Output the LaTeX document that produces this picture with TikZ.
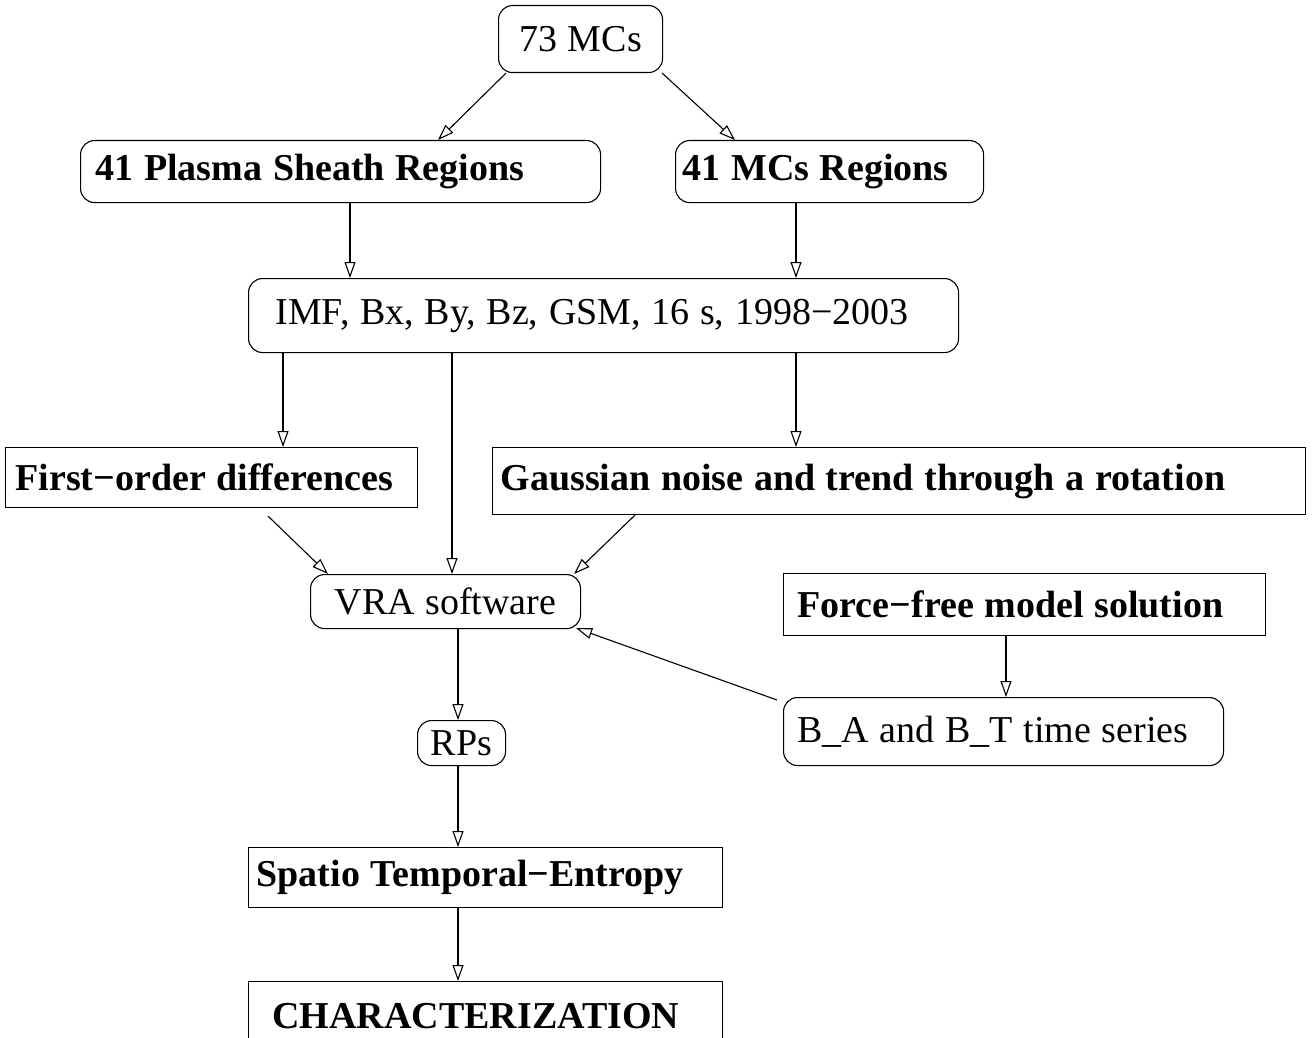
\documentclass[tikz,border=0pt]{standalone}
\usepackage{fontspec}
\setmainfont{Liberation Serif}
\usetikzlibrary{arrows.meta}
\tikzset{
  base/.style={draw, line width=1.1pt, font=\fontsize{38}{44}\selectfont, inner ysep=0pt, align=left, anchor=north west,
    execute at begin node={\spaceskip=0.28em\relax}},
  rbox/.style={base, rounded corners=14pt},
  sbox/.style={base},
  arr/.style={-{Triangle[open,length=16pt,width=11pt]}, line width=1.1pt}
}
\begin{document}
\begin{tikzpicture}[x=1pt,y=-1pt]
\useasboundingbox (0,0) rectangle (1314,1038);
\clip (0,0) rectangle (1314,1038);
\fill[white] (0,0) rectangle (1314,1038);
\node[rbox, align=center, minimum height=67pt, text width=144pt, inner xsep=10pt] (m73) at (498,5) {73 MCs};
\node[rbox, minimum height=62pt, text width=490pt, inner xsep=15pt] (ps) at (80,140) {\bfseries 41 Plasma Sheath Regions};
\node[rbox, minimum height=62pt, text width=294pt, inner xsep=7pt] (mcr) at (675,140) {\bfseries 41 MCs Regions};
\node[rbox, minimum height=74pt, text width=656pt, inner xsep=27pt] (imf) at (248,278) {IMF, Bx, By, Bz, GSM, 16 s, 1998−2003};
\node[sbox, minimum height=60pt, text width=392pt, inner xsep=10pt] (fod) at (5,447) {\bfseries First−order differences};
\node[sbox, minimum height=67pt, text width=797pt, inner xsep=8pt] (gau) at (492,447) {\bfseries Gaussian noise and trend through a rotation};
\node[rbox, align=center, minimum height=54pt, text width=250pt, inner xsep=10pt] (vra) at (310,574) {VRA software};
\node[sbox, minimum height=62pt, text width=454pt, inner xsep=14pt] (ffm) at (783,573) {\bfseries Force−free model solution};
\node[rbox, minimum height=68pt, text width=412pt, inner xsep=14pt] (bab) at (783,697) {B\_A and B\_T time series};
\node[rbox, align=center, minimum height=45pt, text width=78pt, inner xsep=5pt] (rps) at (417,720) {RPs};
\node[sbox, minimum height=60pt, text width=458pt, inner xsep=8pt] (ste) at (248,847) {\bfseries Spatio Temporal−Entropy};
\node[sbox, minimum height=70pt, text width=426pt, inner xsep=24pt] (chr) at (248,981) {\bfseries CHARACTERIZATION};
\draw[arr] ([xshift=8pt]m73.south west) -- ([xshift=358pt]ps.north west);
\draw[arr] ([xshift=-1pt]m73.south east) -- ([xshift=60pt]mcr.north west);
\draw[arr] ([xshift=270pt]ps.south west) -- ([xshift=102pt]imf.north west);
\draw[arr] ([xshift=121pt]mcr.south west) -- ([xshift=548pt]imf.north west);
\draw[arr] ([xshift=35pt]imf.south west) -- ([xshift=278pt]fod.north west);
\draw[arr] ([xshift=204pt]imf.south west) -- ([xshift=142pt]vra.north west);
\draw[arr] ([xshift=548pt]imf.south west) -- ([xshift=304pt]gau.north west);
\draw[arr] ([shift={(263,8)}]fod.south west) -- ([xshift=18pt]vra.north west);
\draw[arr] ([xshift=143pt]gau.south west) -- ([xshift=-7pt]vra.north east);
\draw[arr] ([xshift=223pt]ffm.south west) -- ([xshift=223pt]bab.north west);
\draw[arr] ([shift={(-6,3)}]bab.north west) -- ([shift={(-5,-1)}]vra.south east);
\draw[arr] ([xshift=148pt]vra.south west) -- ([xshift=41pt]rps.north west);
\draw[arr] ([xshift=41pt]rps.south west) -- ([xshift=210pt]ste.north west);
\draw[arr] ([xshift=210pt]ste.south west) -- ([xshift=210pt]chr.north west);
\end{tikzpicture}
\end{document}
